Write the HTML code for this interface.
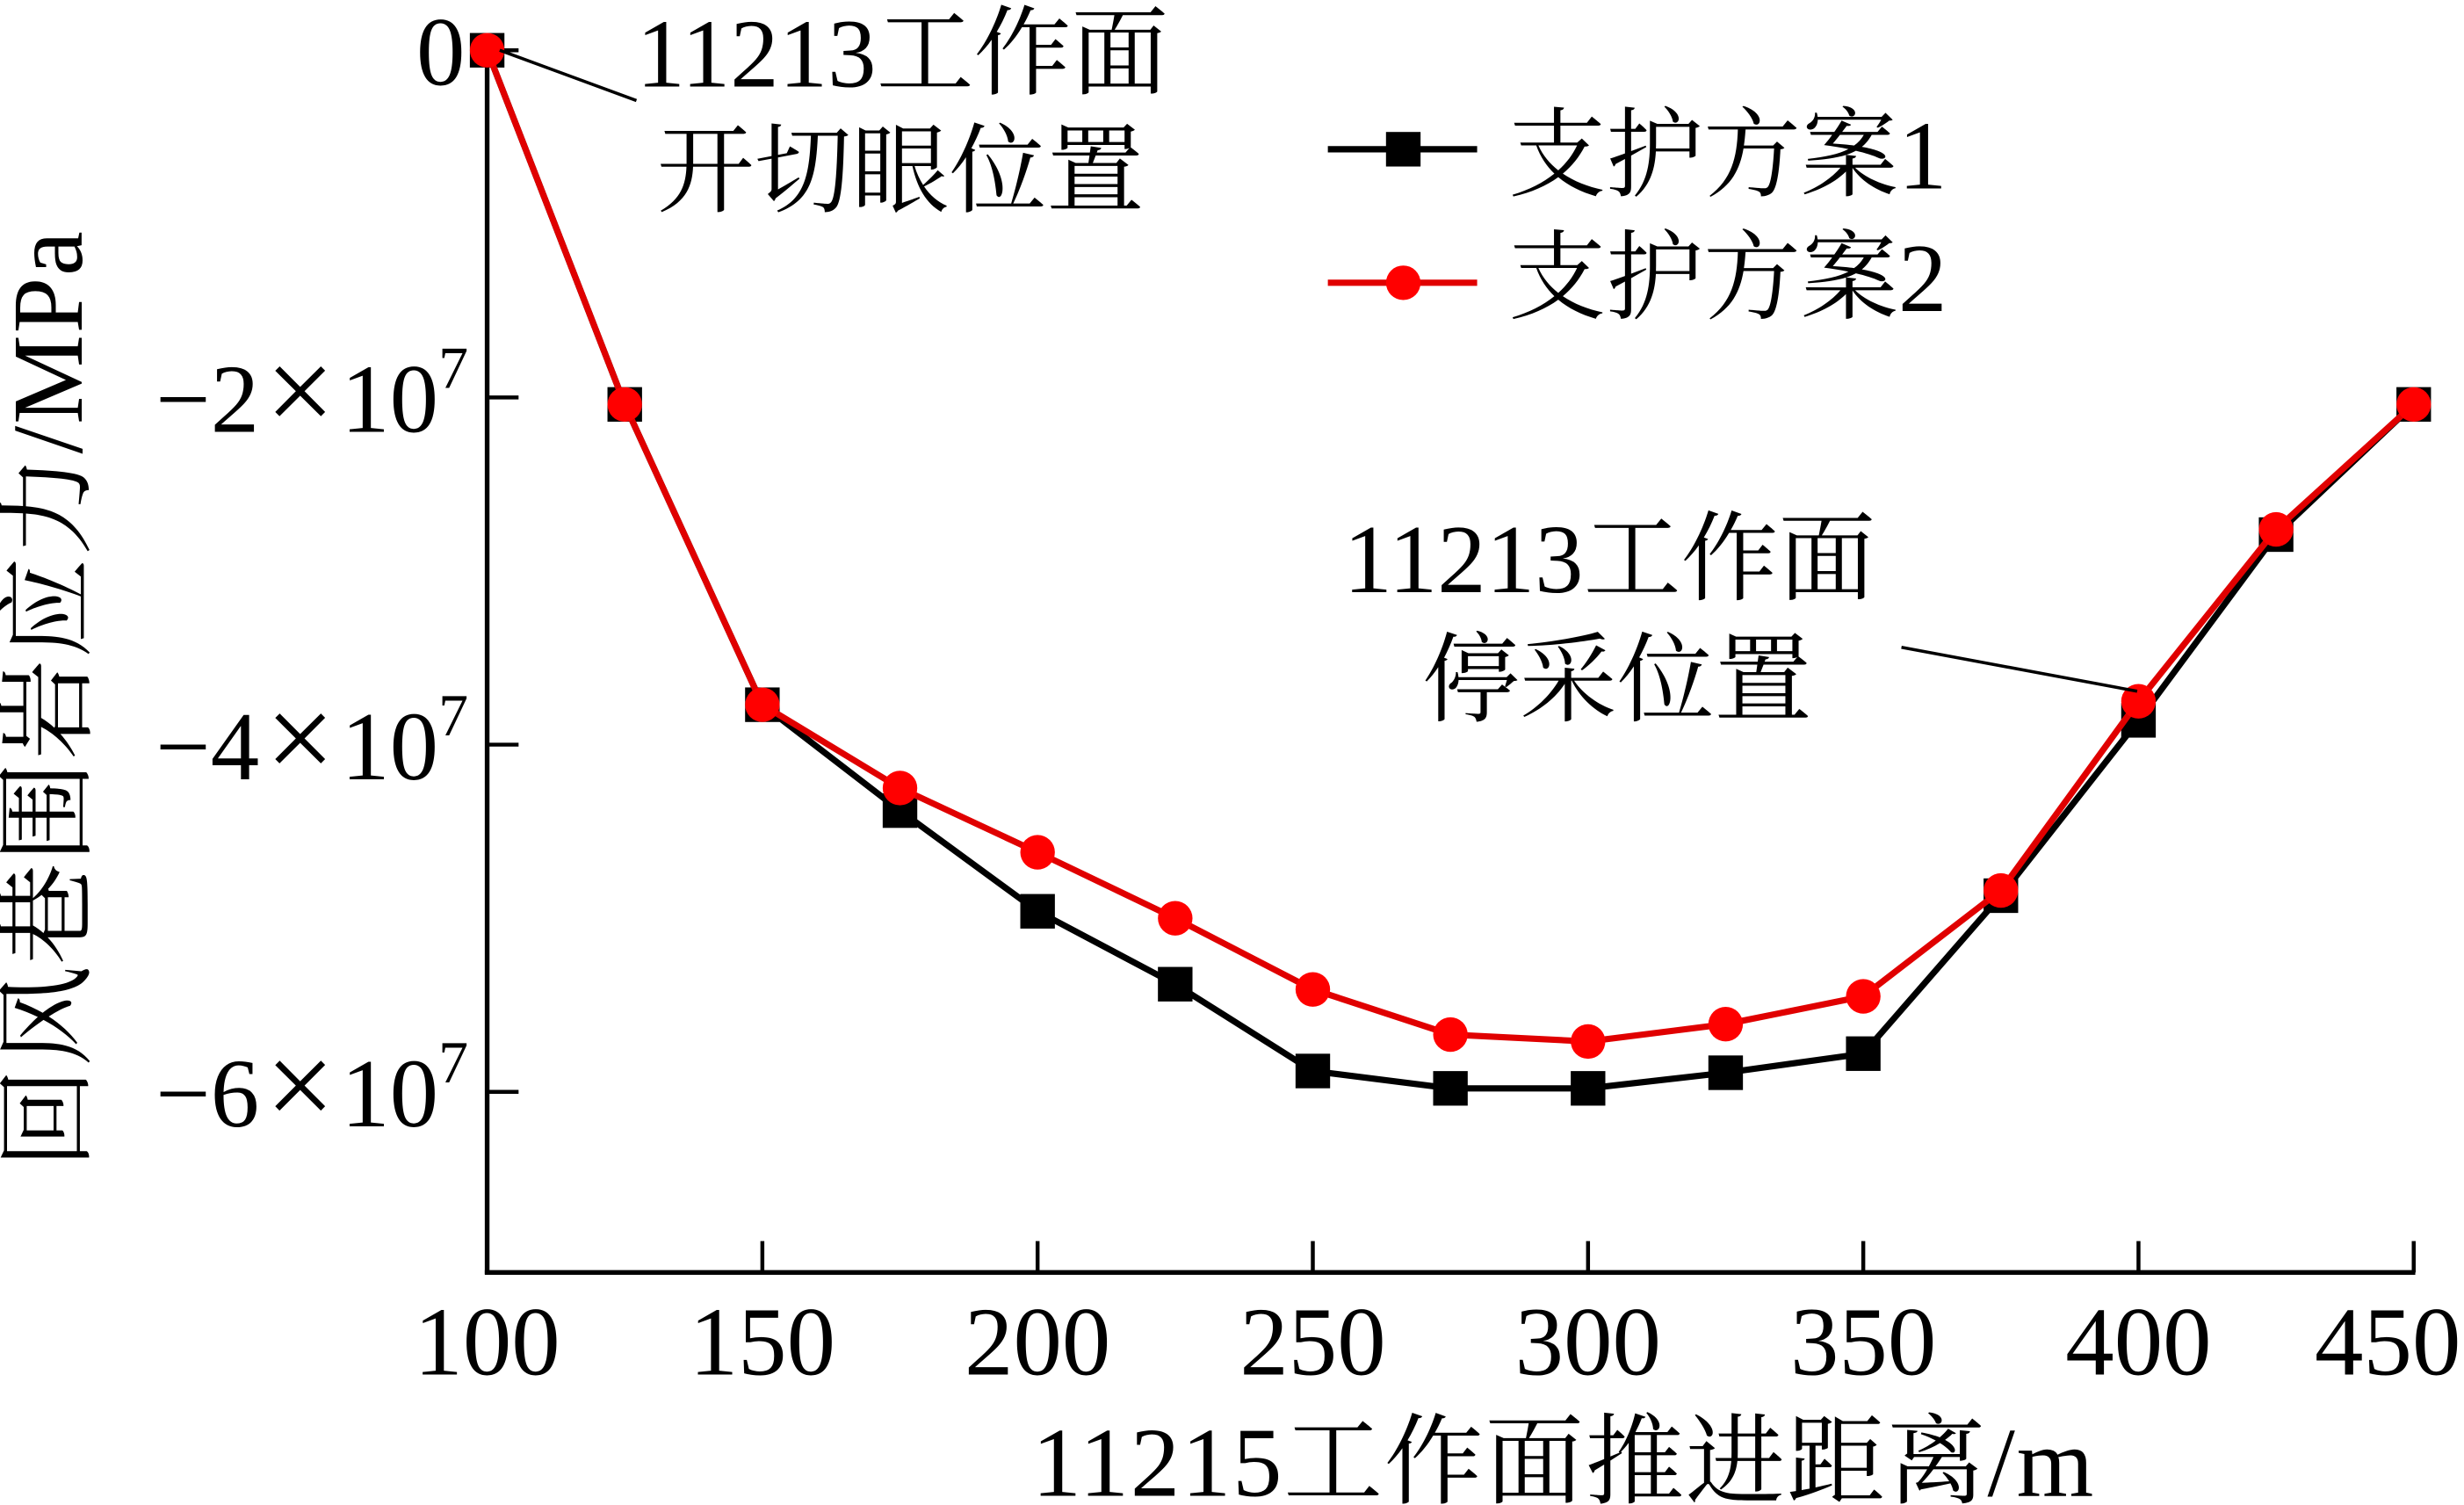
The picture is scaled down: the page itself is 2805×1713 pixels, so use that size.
<!DOCTYPE html>
<html><head><meta charset="utf-8"><style>
html,body{margin:0;padding:0;background:#fff;}
svg{display:block;}
text{font-family:"Liberation Serif","Noto Serif CJK SC","Noto Sans CJK SC",serif;fill:#000;}
</style></head><body>
<svg id="chart" width="2805" height="1713" viewBox="0 0 1568 958" preserveAspectRatio="none" xmlns="http://www.w3.org/2000/svg">
<g id="axes"></g>
<g id="series"></g>
<g>
<line x1="318" y1="32" x2="405" y2="64" stroke="#000" stroke-width="2"/>
<text x="405" y="55" font-size="62">11213工作面</text>
<text x="418" y="130" font-size="62">开切眼位置</text>
</g>
<g>
<line x1="1210" y1="412" x2="1360" y2="440" stroke="#000" stroke-width="2"/>
<text x="855" y="377" font-size="62">11213工作面</text>
<text x="905" y="454" font-size="62">停采位置</text>
</g>
<g>
<g>
<line x1="845" y1="95" x2="940" y2="95" stroke="#000" stroke-width="4"/>
<rect x="882" y="84" width="22" height="22" fill="#000"/>
<text x="960" y="120" font-size="62">支护方案1</text>
</g>
<g>
<line x1="845" y1="180" x2="940" y2="180" stroke="#e00000" stroke-width="4"/>
<circle cx="893" cy="180" r="11" fill="#ff0000"/>
<text x="960" y="198" font-size="62">支护方案2</text>
</g>
</g>
<text x="995" y="952" font-size="63" letter-spacing="1" text-anchor="middle">11215工作面推进距离/m</text>
<text transform="translate(52,445) rotate(-90)" font-size="64" letter-spacing="1" text-anchor="middle">回风巷围岩应力/MPa</text>
</svg>
<script>
const xCategories = [100,125,150,175,200,225,250,275,300,325,350,375,400,425,450];
const scheme1Values = [0,-2.04e7,-3.77e7,-4.38e7,-4.96e7,-5.38e7,-5.88e7,-5.98e7,-5.98e7,-5.89e7,-5.78e7,-4.87e7,-3.86e7,-2.79e7,-2.04e7];
const scheme2Values = [0,-2.04e7,-3.77e7,-4.25e7,-4.62e7,-5.0e7,-5.41e7,-5.67e7,-5.71e7,-5.61e7,-5.45e7,-4.84e7,-3.75e7,-2.76e7,-2.04e7];
const xTickValues = [100,150,200,250,300,350,400,450];
const yTickValues = [0,-2e7,-4e7,-6e7];
const yTickMantissa = ["0","−2","−4","−6"];

const NS = "http://www.w3.org/2000/svg";
function X(v){ return 310 + (v-100)/350*1226; }
function Y(v){ return 32 + (-v)/2e7*221; }
function mk(tag, attrs, parent){
  const e = document.createElementNS(NS, tag);
  for (const k in attrs) e.setAttribute(k, attrs[k]);
  parent.appendChild(e); return e;
}
const axes = document.getElementById('axes');
const yAxis = mk('line',{x1:310,y1:32,x2:310,y2:811,stroke:'#000','stroke-width':3},axes);


const xAxis = mk('line',{x1:308.5,y1:810,x2:1537,y2:810,stroke:'#000','stroke-width':3},axes);


xTickValues.forEach((v,i)=>{
  const t = mk('line',{x1:X(v),y1:810,x2:X(v),y2:790,stroke:'#000','stroke-width':2.5},axes);
  
  
  const last = i===xTickValues.length-1;
  const l = mk('text',{x:last?1566:X(v),y:875,'font-size':62,'text-anchor':last?'end':'middle'},axes);
  l.textContent = v;
  
  
});
yTickValues.forEach((v,i)=>{
  const t = mk('line',{x1:310,y1:Y(v),x2:330,y2:Y(v),stroke:'#000','stroke-width':2.5},axes);
  
  
  const l = mk('text',{x:v===0?296:298,y:Y(v)+22,'font-size':62,'text-anchor':'end'},axes);
  if (v===0) { l.textContent = yTickMantissa[i]; }
  else {
    const a = mk('tspan',{},l); a.textContent = yTickMantissa[i];
    const b = mk('tspan',{'font-size':78,dx:4}, l); b.textContent = '×';
    const c = mk('tspan',{dx:4},l); c.textContent = '10';
    const s = mk('tspan',{dy:-28,'font-size':38},l);
    s.textContent = '7';
  }
  
  
});
const series = document.getElementById('series');
function pts(vals){ return xCategories.map((x,i)=>X(x)+','+Y(vals[i])).join(' '); }
const l1 = mk('polyline',{points:pts(scheme1Values),fill:'none',stroke:'#000','stroke-width':4},series);


scheme1Values.forEach((v,i)=>{
  const r = mk('rect',{x:X(xCategories[i])-11,y:Y(v)-11,width:22,height:22,fill:'#000'},series);
  
  
});
const l2 = mk('polyline',{points:pts(scheme2Values),fill:'none',stroke:'#e00000','stroke-width':4},series);


scheme2Values.forEach((v,i)=>{
  const c = mk('circle',{cx:X(xCategories[i]),cy:Y(v),r:11,fill:'#ff0000'},series);
  
  
});
</script>
</body></html>
